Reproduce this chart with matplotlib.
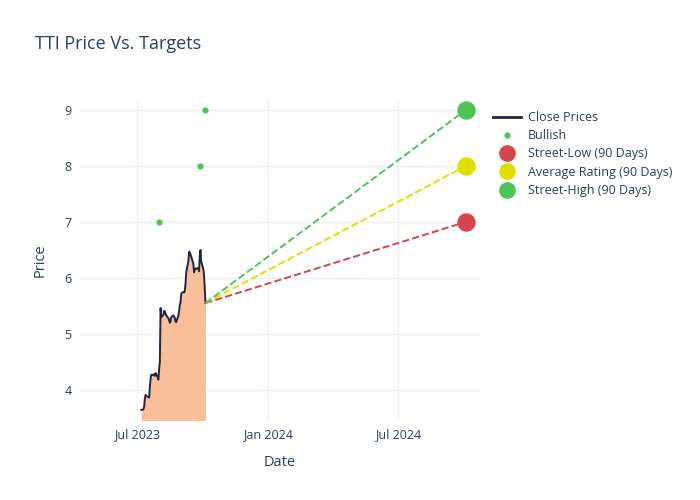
import matplotlib.pyplot as plt
import matplotlib.dates as mdates
from matplotlib.lines import Line2D
import pandas as pd

plt.rcParams['font.family'] = ['Open Sans', 'DejaVu Sans']

# close prices, one per business day from 2023-07-07
close = [3.64, 3.65, 3.70, 3.85, 3.91, 3.89, 3.87, 3.86, 4.05, 4.20,
         4.27, 4.26, 4.28, 4.25, 4.30, 4.28, 4.18, 4.38, 4.50, 5.46,
         5.30, 5.34, 5.41, 5.40, 5.36, 5.33, 5.28, 5.24, 5.20, 5.22,
         5.30, 5.33, 5.31, 5.28, 5.22, 5.21, 5.33, 5.40, 5.52, 5.56,
         5.72, 5.75, 5.74, 5.77, 5.90, 6.10, 6.30, 6.47, 6.45, 6.42,
         6.38, 6.25, 6.10, 6.15, 6.17, 6.16, 6.18, 6.12, 6.40, 6.50,
         6.30, 6.15, 6.05, 5.80, 5.55]
dates = pd.bdate_range('2023-07-07', periods=len(close))

bullish_dates = pd.to_datetime(['2023-08-01', '2023-09-27', '2023-10-04'])
bullish_vals = [7, 8, 9]

target_date = pd.Timestamp('2024-10-04')
target_names = ['Street-Low (90 Days)', 'Average Rating (90 Days)', 'Street-High (90 Days)']
target_vals = [7, 8, 9]
target_colors = ['#d6454b', '#dfdf00', '#4cc553']

txt = '#2a3f5f'
grid = '#ebf0f8'

fig = plt.figure(figsize=(7, 5), dpi=100)
ax = fig.add_axes([80/700, 80/500, 400/700, 320/500])

ax.fill_between(dates, close, 0, color='#f9be9a', lw=0, zorder=2)
ax.plot(dates, close, color='#1f2640', lw=1.4, zorder=3)

for v, c in zip(target_vals, target_colors):
    ax.plot([dates[-1], target_date], [close[-1], v], ls='--', color=c, lw=1.4, zorder=4)
    ax.scatter([target_date], [v], s=175, color=c, zorder=5, lw=0)

ax.scatter(bullish_dates, bullish_vals, s=20, color='#4cc553', zorder=5, lw=0)

ax.set_xlim(pd.Timestamp('2023-04-12'), pd.Timestamp('2024-10-24'))
ax.set_ylim(3.46, 9.18)
ax.set_yticks([4, 5, 6, 7, 8, 9])
ax.xaxis.set_major_locator(mdates.MonthLocator(bymonth=[1, 7]))
ax.xaxis.set_major_formatter(mdates.DateFormatter('%b %Y'))
ax.grid(color=grid, lw=1, zorder=0)
ax.set_axisbelow(True)
for s in ax.spines.values():
    s.set_visible(False)
ax.tick_params(length=0, colors=txt, labelsize=9, pad=6)
ax.set_xlabel('Date', color=txt, fontsize=10.5, labelpad=10)
ax.set_ylabel('Price', color=txt, fontsize=10.5, labelpad=12)

fig.text(35/700, 1 - 44/500, 'TTI Price Vs. Targets', color=txt, fontsize=13, va='center')

handles = [Line2D([], [], color='#1f2640', lw=2),
           Line2D([], [], ls='', marker='o', ms=4.5, color='#4cc553', mec='none')]
handles += [Line2D([], [], ls='', marker='o', ms=12, color=c, mec='none') for c in target_colors]
labels = ['Close Prices', 'Bullish'] + target_names
leg = fig.legend(handles, labels, loc='upper left', bbox_to_anchor=(488/700, 1 - 106/500),
                 frameon=False, fontsize=9, labelspacing=0.42, handlelength=2.2,
                 handletextpad=0.6, borderaxespad=0)
for t in leg.get_texts():
    t.set_color(txt)

fig.savefig('out.png', dpi=100)
